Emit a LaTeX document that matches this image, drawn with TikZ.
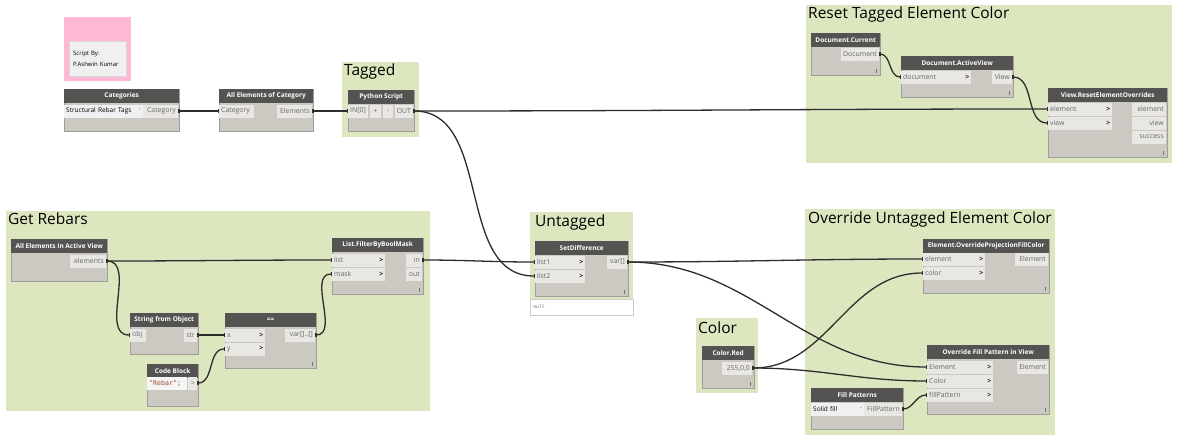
\documentclass[tikz,border=0pt]{standalone}
\usepackage{fontspec}
\setmainfont{Open Sans}
\setmonofont{DejaVu Sans Mono}
\newfontfamily\symfont{DejaVu Sans}
\usepackage{tikz}
\usetikzlibrary{arrows.meta}

\definecolor{groupgreen}{RGB}{221,231,191}
\definecolor{notepink}{RGB}{255,183,214}
\definecolor{hdrgray}{RGB}{84,83,82}
\definecolor{bodygray}{RGB}{204,200,194}
\definecolor{bordergray}{RGB}{160,158,154}
\definecolor{portgray}{RGB}{233,231,228}
\definecolor{porttext}{RGB}{105,105,105}
\definecolor{wiregray}{RGB}{45,45,45}
\definecolor{codebrown}{RGB}{165,75,45}

\tikzset{
  grp/.style={fill=groupgreen, anchor=north west, inner sep=0pt},
  grptitle/.style={anchor=north west, inner sep=0pt, font=\fontsize{15.5}{16}\selectfont},
  hdr/.style={fill=hdrgray, text=white, anchor=north west, inner sep=0pt,
    minimum height=14pt, font=\bfseries\fontsize{6.5}{7}\selectfont},
  bodybox/.style={fill=bodygray, draw=bordergray, line width=0.5pt,
    anchor=north west, inner sep=0pt},
  portbox/.style={fill=portgray, inner xsep=2pt, inner ysep=0pt, minimum height=13pt,
    text=porttext, font=\fontsize{6.9}{7}\selectfont},
  dropbox/.style={portbox, fill=white!94!black, text=black, anchor=west, align=left,
    font=\fontsize{6.5}{7}\selectfont},
  codebox/.style={portbox, fill=white!96!black, anchor=west, align=left,
    font=\ttfamily\fontsize{6.6}{7}\selectfont},
  notebox/.style={fill=white!94!black, draw=white!85!black, anchor=north west,
    inner sep=4pt, align=left, font=\fontsize{6}{6}\selectfont},
  nullbox/.style={fill=white, draw=white!80!black, line width=0.5pt, anchor=west,
    inner xsep=3pt, minimum height=16pt, align=left, text=porttext,
    font=\ttfamily\fontsize{4.8}{5}\selectfont},
  gripline/.style={draw=white!45!black, line width=0.5pt},
  wire/.style={draw=wiregray, line width=1.3pt,
    {Rectangle[length=1.5pt,width=3.6pt]}-{Rectangle[length=1.5pt,width=3.6pt]}},
}

% id, x, y, width, height, title
\newcommand{\dyn}[6]{%
  \node[bodybox, minimum width=#4pt, minimum height=#5pt] (#1) at (#2,#3) {};
  \node[hdr, minimum width=#4pt] (#1-h) at (#1.north west) {#6};}
% id, x, y, text width, label
\newcommand{\inport}[5]{\node[portbox, anchor=west, text width=#4pt, align=left] (#1) at (#2,#3) {#5};}
\newcommand{\outport}[5]{\node[portbox, anchor=east, text width=#4pt, align=right] (#1) at (#2,#3) {#5};}
\newcommand{\chev}{\hskip0pt plus1fill\textcolor{black!85}{\textbf{>}}}
\newcommand{\drop}{\hskip0pt plus1fill{\symfont\color{porttext}\fontsize{5}{6}\selectfont ˅}}
\newcommand{\grip}[1]{\draw[gripline] ([shift={(-4,-3)}]#1.south east) -- ++(0,-4);}

\begin{document}
\begin{tikzpicture}[x=1pt,y=-1pt]
  \useasboundingbox (0,0) rectangle (1200,442);
  \fill[white] (0,0) rectangle (1200,442);

  % groups
  \node[grp, fill=notepink, minimum width=67pt, minimum height=64pt] (g-note) at (64,17) {};
  \node[grp, minimum width=77pt, minimum height=75pt] (g-tagged) at (342,62) {};
  \node[grp, minimum width=366pt, minimum height=158pt] (g-reset) at (806,5) {};
  \node[grp, minimum width=424pt, minimum height=200pt] (g-rebars) at (6,211) {};
  \node[grp, minimum width=103pt, minimum height=88pt] (g-untagged) at (530,212) {};
  \node[grp, minimum width=250pt, minimum height=226pt] (g-override) at (805,209) {};
  \node[grp, minimum width=62pt, minimum height=75pt] (g-color) at (696,318) {};

  \node[grptitle] at ([shift={(2,2)}]g-tagged.north west) {Tagged};
  \node[grptitle] at ([shift={(2,2)}]g-reset.north west) {Reset Tagged Element Color};
  \node[grptitle] at ([shift={(2,2)}]g-rebars.north west) {Get Rebars};
  \node[grptitle] at ([shift={(5,3)}]g-untagged.north west) {Untagged};
  \node[grptitle] at ([shift={(3,3)}]g-override.north west) {Override Untagged Element Color};
  \node[grptitle] at ([shift={(2,4)}]g-color.north west) {Color};

  % note
  \node[notebox, minimum width=57pt, minimum height=35pt, text width=49pt] (note) at (69,41)
    {Script By:\\[5pt]P.Ashwin Kumar};

  % top row
  \dyn{cat}{64}{89}{115}{42}{Categories}
  \node[dropbox, text width=75pt] (cat-drop) at (64,111) {Structural Rebar Tags\drop};
  \outport{cat-out}{178}{111}{31}{Category}

  \dyn{allcat}{219}{89}{94}{42}{All Elements of Category}
  \inport{allcat-in}{219}{111}{31}{Category}
  \outport{allcat-out}{312}{111}{31}{Elements}

  \dyn{py}{348}{90}{66}{41}{Python Script}
  \inport{py-in}{348}{111}{16}{IN[0]}
  \node[portbox, anchor=west, text width=7pt, align=center] (py-add) at (370,111) {+};
  \node[portbox, anchor=west, text width=6pt, align=center] (py-sub) at (383,111) {-};
  \outport{py-out}{413}{111}{14}{OUT}

  % reset tagged
  \dyn{doccur}{811}{33}{69}{42}{Document.Current}
  \outport{doccur-out}{879}{54}{34}{Document}
  \grip{doccur}

  \dyn{act}{901}{56}{112}{41}{Document.ActiveView}
  \inport{act-in}{901}{77}{66}{document\chev}
  \outport{act-out}{1012}{77}{16}{View}
  \grip{act}

  \dyn{reset}{1048}{88}{119}{69}{View.ResetElementOverrides}
  \inport{reset-el}{1048}{109}{60}{element\chev}
  \inport{reset-view}{1048}{123}{60}{view\chev}
  \outport{reset-oel}{1166}{109}{30}{element}
  \outport{reset-oview}{1166}{123}{30}{view}
  \outport{reset-ok}{1166}{137}{30}{success}
  \grip{reset}

  % get rebars
  \dyn{allview}{11}{239}{96}{42}{All Elements In Active View}
  \outport{allview-out}{106}{261}{32}{elements}

  \dyn{filter}{332}{238}{91}{56}{List.FilterByBoolMask}
  \inport{filter-list}{332}{260}{49}{list\chev}
  \inport{filter-mask}{332}{274}{49}{mask\chev}
  \outport{filter-in}{422}{260}{12}{in}
  \outport{filter-out}{422}{274}{12}{out}
  \grip{filter}

  \dyn{str}{130}{313}{68}{41}{String from Object}
  \inport{str-in}{130}{335}{12}{obj}
  \outport{str-out}{197}{335}{9}{str}

  \dyn{eq}{225}{313}{91}{55}{==}
  \inport{eq-x}{225}{335}{36}{x\chev}
  \inport{eq-y}{225}{349}{36}{y\chev}
  \outport{eq-out}{315}{335}{26}{var[]..[]}
  \grip{eq}

  \dyn{code}{147}{364}{51}{42}{Code Block}
  \node[codebox, text width=36pt] (code-txt) at (147,383) {\textcolor{codebrown}{"Rebar"};};
  \outport{code-out}{197}{383}{5}{>}

  % untagged
  \dyn{sd}{535}{241}{93}{55}{SetDifference}
  \inport{sd-l1}{535}{262}{46}{list1\chev}
  \inport{sd-l2}{535}{276}{46}{list2\chev}
  \outport{sd-out}{627}{262}{16}{var[]}
  \grip{sd}
  \node[nullbox, text width=97pt] (sd-null) at (530,307) {null};

  % override untagged
  \dyn{ovc}{923}{239}{126}{54}{Element.OverrideProjectionFillColor}
  \inport{ovc-el}{923}{259}{58}{element\chev}
  \inport{ovc-col}{923}{273}{58}{color\chev}
  \outport{ovc-out}{1048}{259}{29}{Element}
  \grip{ovc}

  \dyn{ovf}{927}{345}{122}{69}{Override Fill Pattern in View}
  \inport{ovf-el}{927}{367}{62}{Element\chev}
  \inport{ovf-col}{927}{381}{62}{Color\chev}
  \inport{ovf-pat}{927}{395}{62}{fillPattern\chev}
  \outport{ovf-out}{1048}{367}{27}{Element}
  \grip{ovf}

  \dyn{fp}{811}{388}{92}{41}{Fill Patterns}
  \node[dropbox, text width=49pt] (fp-drop) at (811,409) {Solid fill\drop};
  \outport{fp-out}{902}{409}{34}{FillPattern}

  % color
  \dyn{red}{702}{346}{52}{42}{Color.Red}
  \outport{red-out}{752}{368}{26}{255,0,0}
  \grip{red}

  % wires
  \draw[wire] (cat-out.east) to[out=0,in=180] (allcat-in.west);
  \draw[wire] (allcat-out.east) to[out=0,in=180] (py-in.west);
  \draw[wire] (py-out.east) to[out=0,in=180] (reset-el.west);
  \draw[wire] (py-out.east) to[out=0,in=180] (sd-l2.west);
  \draw[wire] (doccur-out.east) to[out=0,in=180] (act-in.west);
  \draw[wire] (act-out.east) to[out=0,in=180] (reset-view.west);
  \draw[wire] (allview-out.east) to[out=0,in=180] (filter-list.west);
  \draw[wire] (allview-out.east) to[out=0,in=180] (str-in.west);
  \draw[wire] (str-out.east) to[out=0,in=180] (eq-x.west);
  \draw[wire] (code-out.east) to[out=0,in=180] (eq-y.west);
  \draw[wire] (eq-out.east) to[out=0,in=180] (filter-mask.west);
  \draw[wire] (filter-in.east) to[out=0,in=180] (sd-l1.west);
  \draw[wire] (sd-out.east) to[out=0,in=180] (ovc-el.west);
  \draw[wire] (sd-out.east) to[out=0,in=180] (ovf-el.west);
  \draw[wire] (red-out.east) to[out=0,in=180] (ovc-col.west);
  \draw[wire] (red-out.east) to[out=0,in=180] (ovf-col.west);
  \draw[wire] (fp-out.east) to[out=0,in=180] (ovf-pat.west);
\end{tikzpicture}
\end{document}
